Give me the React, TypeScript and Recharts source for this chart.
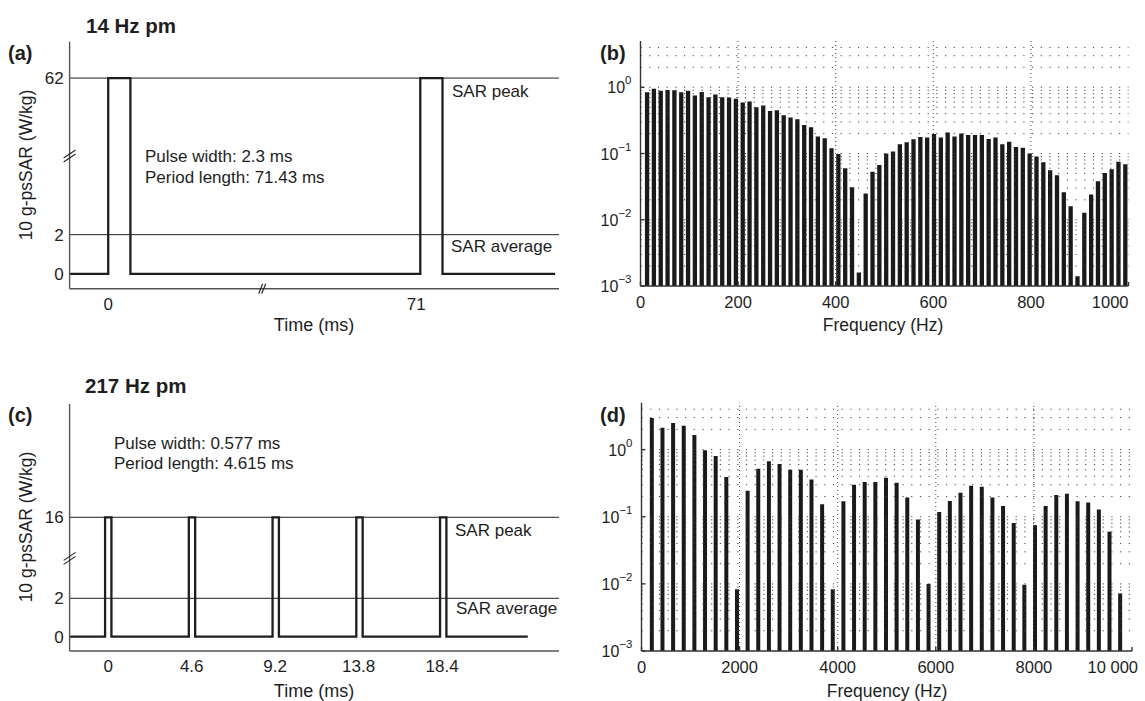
import React from 'react';
import {
  LineChart,
  Line,
  BarChart,
  Bar,
  XAxis,
  YAxis,
  ReferenceLine,
  ReferenceDot,
} from 'recharts';

const FONT = '"Liberation Sans", Arial, Helvetica, sans-serif';
const INK = '#1e1e1e';
const FRAME = '#555';

// (a) 14 Hz pulse modulation, time domain
const pulses14 = [0, 71.43];
const pulseWidth14 = 2.3;
const peak14 = 62;
const avg14 = 2;
const span14 = [-4.0, 85.4];
const timeTicks14 = [0, 71];
const sarTicks14 = [0, 2, 62];

// (c) 217 Hz pulse modulation, time domain
const pulses217 = [0, 4.615, 9.23, 13.845, 18.46];
const pulseWidth217 = 0.35; // width as drawn
const peak217 = 16;
const avg217 = 2;
const span217 = [-2.13, 23.12];
const timeTicks217 = [0, 4.6, 9.2, 13.8, 18.4];
const sarTicks217 = [0, 2, 16];

// (b) spectrum, harmonics of 14 Hz
const harmonic14 = 14;
const spectrum14 = [
  0.84, 0.95, 0.89, 0.91, 0.9, 0.84, 0.89, 0.75, 0.85, 0.71,
  0.78, 0.71, 0.7, 0.67, 0.59, 0.61, 0.5, 0.53, 0.44, 0.45,
  0.38, 0.35, 0.33, 0.27, 0.25, 0.18, 0.17, 0.12, 0.098, 0.06,
  0.031, 0.0016, 0.025, 0.053, 0.067, 0.1, 0.107, 0.138, 0.148, 0.164,
  0.178, 0.174, 0.198, 0.174, 0.207, 0.18, 0.2, 0.19, 0.19, 0.19,
  0.166, 0.174, 0.138, 0.15, 0.126, 0.122, 0.1, 0.09, 0.074, 0.056,
  0.047, 0.026, 0.016, 0.0014, 0.0128, 0.024, 0.038, 0.051, 0.058, 0.075,
  0.069,
];
const freqTicks14 = [0, 200, 400, 600, 800, 1000];

// (d) spectrum, harmonics of 217 Hz
const harmonic217 = 217;
const spectrum217 = [
  2.96, 2.12, 2.49, 2.27, 1.65, 0.98, 0.8, 0.39, 0.0083, 0.243,
  0.52, 0.67, 0.61, 0.5, 0.5, 0.36, 0.154, 0.0083, 0.17, 0.3,
  0.33, 0.33, 0.38, 0.32, 0.193, 0.091, 0.01, 0.118, 0.172, 0.227,
  0.29, 0.279, 0.193, 0.144, 0.081, 0.0097, 0.075, 0.144, 0.21, 0.22,
  0.17, 0.163, 0.128, 0.06, 0.0072,
];
const freqTicks217 = [0, 2000, 4000, 6000, 8000, 10000];

const decadeTicks = [0.001, 0.01, 0.1, 1];
const logTop = 5;
const minorGrid = decadeTicks
  .flatMap((d) => [1, 2, 3, 4, 5, 6, 7, 8, 9].map((m) => +(d * m).toPrecision(3)))
  .filter((v) => v > 0.001 && v < logTop);

// broken axes: values above the break are squeezed, the quiet gap in (a) is cut out
const squeeze = (top: number, k: number) => (v: number) => (v <= top ? v : top + (v - top) * k);
const yA = squeeze(2, 0.1328);
const yC = squeeze(2, 0.3014);
const xA = (t: number) => (t < 36 ? t : t - 39.1);
const xC = (t: number) => t;

function pulseTrain(
  starts: number[],
  width: number,
  peak: number,
  span: number[],
  fx: (t: number) => number,
  fy: (v: number) => number
) {
  const pts: number[][] = [[span[0], 0]];
  starts.forEach((s) => {
    pts.push([s, 0], [s, peak], [s + width, peak], [s + width, 0]);
  });
  pts.push([span[1], 0]);
  return pts.map(([t, v]) => ({ x: fx(t), y: fy(v) }));
}

const train14 = pulseTrain(pulses14, pulseWidth14, peak14, span14, xA, yA);
const train217 = pulseTrain(
  pulses217.map((p) => p - pulseWidth217 / 2),
  pulseWidth217,
  peak217,
  span217,
  xC,
  yC
);
const bars14 = spectrum14.map((amp, i) => ({ f: (i + 1) * harmonic14, amp }));
const bars217 = spectrum217.map((amp, i) => ({ f: (i + 1) * harmonic217, amp }));

const BreakY = (props: any) => {
  const { cx, cy } = props;
  return (
    <g stroke={INK} strokeWidth={1.1}>
      <line x1={cx - 6} y1={cy + 2} x2={cx + 6} y2={cy - 6} />
      <line x1={cx - 6} y1={cy + 6} x2={cx + 6} y2={cy - 2} />
    </g>
  );
};

const BreakX = (props: any) => {
  const { cx, cy } = props;
  return (
    <g stroke={INK} strokeWidth={1.1}>
      <line x1={cx - 4} y1={cy + 5} x2={cx} y2={cy - 5} />
      <line x1={cx - 1} y1={cy + 5} x2={cx + 3} y2={cy - 5} />
    </g>
  );
};

const PowerTick = (props: any) => {
  const { x, y, payload } = props;
  const exp = Math.round(Math.log10(payload.value));
  return (
    <text x={x} y={y} textAnchor="end" dominantBaseline="central" fontSize={16} fill={INK} fontFamily={FONT}>
      <tspan>10</tspan>
      <tspan dy={-7} fontSize={11.5}>
        {exp === 0 ? '0' : '\u2212' + -exp}
      </tspan>
    </text>
  );
};

const fmtFreq = (v: number) => (v >= 10000 ? String(v).replace(/(\d)(?=(\d{3})+$)/g, '$1 ') : String(v));

// last frequency label is pulled inside the figure edge
const makeFreqTick = (count: number, lastShift: number) => (props: any) => {
  const { x, y, payload, index } = props;
  const last = index === count - 1;
  return (
    <text
      x={last ? x + lastShift : x}
      y={y}
      textAnchor={last ? 'end' : 'middle'}
      dominantBaseline="hanging"
      fontSize={16.5}
      fill={INK}
      fontFamily={FONT}
    >
      {fmtFreq(payload.value)}
    </text>
  );
};

interface TimePanelProps {
  data: { x: number; y: number }[];
  xDomain: number[];
  yDomain: number[];
  xTicks: number[];
  xLabels: string[];
  yTicks: number[];
  yLabels: string[];
  peak: number;
  avg: number;
  yBreak: number;
  xBreak?: number;
  height: number;
  margin: { top: number; right: number; bottom: number; left: number };
}

function TimePanel(p: TimePanelProps) {
  const xLabel = (v: number) => p.xLabels[p.xTicks.findIndex((t) => Math.abs(t - v) < 1e-6)] ?? '';
  const yLabel = (v: number) => p.yLabels[p.yTicks.findIndex((t) => Math.abs(t - v) < 1e-6)] ?? '';
  const frame = { stroke: FRAME, strokeWidth: 1.4 };
  return (
    <LineChart width={580} height={p.height} data={p.data} margin={p.margin}>
      <XAxis
        dataKey="x"
        type="number"
        domain={p.xDomain}
        ticks={p.xTicks}
        tickFormatter={xLabel}
        allowDataOverflow
        height={30}
        tickLine={false}
        tickMargin={3}
        axisLine={frame}
        tick={{ fontSize: 17, fill: INK, fontFamily: FONT }}
      />
      <XAxis xAxisId="top" orientation="top" type="number" domain={p.xDomain} height={0} tick={false} tickLine={false} axisLine={frame} />
      <YAxis
        type="number"
        domain={p.yDomain}
        ticks={p.yTicks}
        tickFormatter={yLabel}
        allowDataOverflow
        width={60}
        tickLine={false}
        tickMargin={0}
        axisLine={frame}
        tick={{ fontSize: 17, fill: INK, fontFamily: FONT }}
      />
      <YAxis yAxisId="right" orientation="right" type="number" domain={p.yDomain} width={0} tick={false} tickLine={false} axisLine={frame} />
      <ReferenceLine y={p.peak} stroke={INK} strokeWidth={1} />
      <ReferenceLine y={p.avg} stroke={INK} strokeWidth={1} />
      <Line type="linear" dataKey="y" stroke={INK} strokeWidth={2.3} dot={false} isAnimationActive={false} />
      <ReferenceDot x={p.xDomain[0]} y={p.yBreak} ifOverflow="visible" shape={BreakY} />
      {p.xBreak !== undefined && (
        <ReferenceDot x={p.xBreak} y={p.yDomain[0]} ifOverflow="visible" shape={BreakX} />
      )}
    </LineChart>
  );
}

interface SpectrumPanelProps {
  data: { f: number; amp: number }[];
  xTicks: number[];
  barSize: number;
  lastShift: number;
  height: number;
  margin: { top: number; right: number; bottom: number; left: number };
}

function SpectrumPanel(p: SpectrumPanelProps) {
  const xDomain = [p.xTicks[0], p.xTicks[p.xTicks.length - 1]];
  const yDomain = [0.001, logTop];
  const axisStyle = { stroke: '#333', strokeWidth: 1.4 };
  const FreqTick = makeFreqTick(p.xTicks.length, p.lastShift);
  return (
    <BarChart width={585} height={p.height} data={p.data} margin={p.margin}>
      <XAxis
        dataKey="f"
        type="number"
        domain={xDomain}
        ticks={p.xTicks}
        allowDataOverflow
        height={30}
        tickSize={-4}
        tickMargin={14}
        tickLine={axisStyle}
        axisLine={axisStyle}
        tick={<FreqTick />}
      />
      <XAxis xAxisId="top" orientation="top" type="number" domain={xDomain} ticks={p.xTicks} allowDataOverflow height={0} tick={false} tickSize={-4} tickLine={axisStyle} axisLine={axisStyle} />
      <YAxis
        type="number"
        scale="log"
        domain={yDomain}
        ticks={decadeTicks}
        allowDataOverflow
        width={60}
        tickSize={-4}
        tickMargin={13}
        tickLine={axisStyle}
        axisLine={axisStyle}
        tick={<PowerTick />}
      />
      <YAxis yAxisId="right" orientation="right" type="number" scale="log" domain={yDomain} ticks={decadeTicks} allowDataOverflow width={0} tick={false} tickSize={-4} tickLine={axisStyle} axisLine={axisStyle} />
      {minorGrid.map((v) => (
        <ReferenceLine key={'h' + v} y={v} stroke="#444" strokeWidth={1} strokeDasharray="1.2 7.5" />
      ))}
      {p.xTicks.slice(1, -1).map((v) => (
        <ReferenceLine key={'v' + v} x={v} stroke="#444" strokeWidth={1} strokeDasharray="1 3" />
      ))}
      <Bar dataKey="amp" fill="#1a1a1a" barSize={p.barSize} isAnimationActive={false} />
    </BarChart>
  );
}

const Txt = ({ x, y, children, size = 17, weight = 400, anchor = 'start', rotate }: any) => (
  <text
    x={x}
    y={y}
    fontSize={size}
    fontWeight={weight}
    textAnchor={anchor}
    dominantBaseline="central"
    fill={INK}
    fontFamily={FONT}
    transform={rotate ? `rotate(${rotate} ${x} ${y})` : undefined}
  >
    {children}
  </text>
);

export default function App() {
  return (
    <div style={{ position: 'absolute', left: 0, top: 0, width: 1145, height: 701, background: '#fff', overflow: 'hidden' }}>
      <div style={{ position: 'absolute', left: 0, top: 0 }}>
        <TimePanel
          data={train14}
          xDomain={[-4.0, 46.7]}
          yDomain={[-0.75, 11.82]}
          xTicks={timeTicks14.map(xA)}
          xLabels={timeTicks14.map(String)}
          yTicks={sarTicks14.map(yA)}
          yLabels={sarTicks14.map(String)}
          peak={yA(peak14)}
          avg={yA(avg14)}
          yBreak={6.0}
          xBreak={16}
          height={345}
          margin={{ top: 41.7, right: 21, bottom: 26.3, left: 9.6 }}
        />
      </div>
      <div style={{ position: 'absolute', left: 0, top: 350 }}>
        <TimePanel
          data={train217}
          xDomain={[-2.13, 24.84]}
          yDomain={[-0.745, 12.12]}
          xTicks={timeTicks217}
          xLabels={timeTicks217.map(String)}
          yTicks={sarTicks217.map(yC)}
          yLabels={sarTicks217.map(String)}
          peak={yC(peak217)}
          avg={yC(avg217)}
          yBreak={4.08}
          height={351}
          margin={{ top: 54, right: 21, bottom: 20, left: 9.6 }}
        />
      </div>
      <div style={{ position: 'absolute', left: 560, top: 0 }}>
        <SpectrumPanel data={bars14} xTicks={freqTicks14} barSize={4.3} lastShift={0} height={345} margin={{ top: 41, right: 16.5, bottom: 29, left: 20.5 }} />
      </div>
      <div style={{ position: 'absolute', left: 560, top: 350 }}>
        <SpectrumPanel data={bars217} xTicks={freqTicks217} barSize={4} lastShift={13} height={351} margin={{ top: 52.7, right: 13, bottom: 20, left: 21.5 }} />
      </div>
      <svg width={1145} height={701} style={{ position: 'absolute', left: 0, top: 0, pointerEvents: 'none' }}>
        <Txt x={86} y={25} size={20.5} weight={700}>14 Hz pm</Txt>
        <Txt x={8} y={53} size={20} weight={700}>(a)</Txt>
        <Txt x={145} y={156}>Pulse width: 2.3 ms</Txt>
        <Txt x={145} y={177}>Period length: 71.43 ms</Txt>
        <Txt x={452} y={91}>SAR peak</Txt>
        <Txt x={451} y={246}>SAR average</Txt>
        <Txt x={314} y={325} size={18} anchor="middle">Time (ms)</Txt>
        <Txt x={26} y={165} size={17.5} anchor="middle" rotate={-90}>10 g-psSAR (W/kg)</Txt>

        <Txt x={85} y={385} size={20.5} weight={700}>217 Hz pm</Txt>
        <Txt x={8} y={415} size={20} weight={700}>(c)</Txt>
        <Txt x={114} y={443}>Pulse width: 0.577 ms</Txt>
        <Txt x={114} y={463}>Period length: 4.615 ms</Txt>
        <Txt x={455} y={530}>SAR peak</Txt>
        <Txt x={456} y={608}>SAR average</Txt>
        <Txt x={314} y={691} size={18} anchor="middle">Time (ms)</Txt>
        <Txt x={26} y={527} size={17.5} anchor="middle" rotate={-90}>10 g-psSAR (W/kg)</Txt>

        <Txt x={600} y={53} size={20} weight={700}>(b)</Txt>
        <Txt x={883} y={325} size={17.5} anchor="middle">Frequency (Hz)</Txt>
        <Txt x={600} y={415} size={20} weight={700}>(d)</Txt>
        <Txt x={887} y={691} size={17.5} anchor="middle">Frequency (Hz)</Txt>
      </svg>
    </div>
  );
}
